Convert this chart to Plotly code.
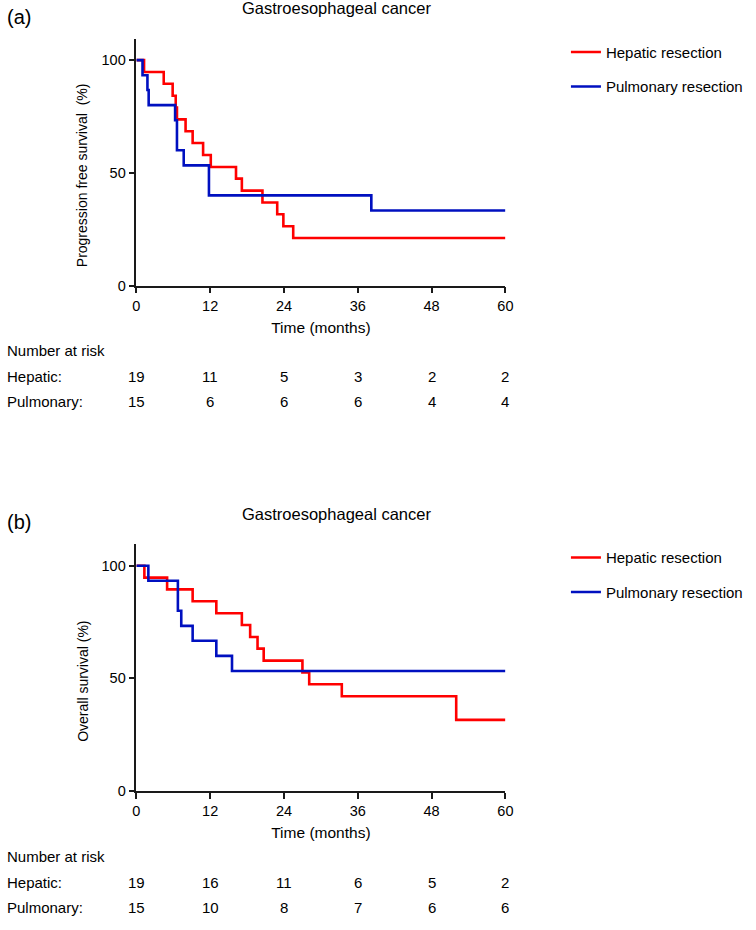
import plotly.graph_objects as go

# ---------------- data ----------------
panel_labels = ["(a)", "(b)"]
panel_titles = ["Gastroesophageal cancer", "Gastroesophageal cancer"]
y_titles = ["Progression free survival  (%)", "Overall survival (%)"]
series_names = ["Hepatic resection", "Pulmonary resection"]

# Panel (a): progression free survival (step curves)
pfs_hep_t = [0, 1.25, 4.45, 5.9, 6.4, 6.6, 8.0, 9.15, 10.85, 12.1, 16.2, 17.15, 20.5, 22.9, 23.9, 25.5, 60]
pfs_hep_s = [100, 94.7, 89.5, 84.2, 78.9, 73.7, 68.4, 63.2, 57.9, 52.6, 47.4, 42.1, 36.8, 31.6, 26.3, 21.1, 21.1]
pfs_pul_t = [0, 1.0, 1.8, 2.0, 6.3, 6.6, 7.7, 11.8, 38.2, 60]
pfs_pul_s = [100, 93.3, 86.7, 80.0, 73.3, 60.0, 53.3, 40.0, 33.3, 33.3]

# Panel (b): overall survival (step curves)
os_hep_t = [0, 1.3, 5.0, 9.15, 13.0, 17.15, 18.5, 19.7, 20.7, 27.0, 28.1, 33.4, 52.0, 60]
os_hep_s = [100, 94.7, 89.5, 84.2, 78.9, 73.7, 68.4, 63.2, 57.9, 52.6, 47.4, 42.1, 31.6, 31.6]
os_pul_t = [0, 1.95, 6.75, 7.3, 9.15, 13.0, 15.55, 60]
os_pul_s = [100, 93.3, 80.0, 73.3, 66.7, 60.0, 53.3, 53.3]

# Number at risk
risk_times = [0, 12, 24, 36, 48, 60]
pfs_hep_risk = [19, 11, 5, 3, 2, 2]
pfs_pul_risk = [15, 6, 6, 6, 4, 4]
os_hep_risk = [19, 16, 11, 6, 5, 2]
os_pul_risk = [15, 10, 8, 7, 6, 6]
risk_row_labels = ["Hepatic:", "Pulmonary:"]

x_ticks = [0, 12, 24, 36, 48, 60]
y_ticks = [0, 50, 100]

# ---------------- style ----------------
W, H = 756, 930
RED = "#FF0000"
BLUE = "#0010C0"
FONT = "Liberation Sans, Arial, sans-serif"
AXC = "#1a1a1a"


def px(x):
    return x / W


def py(y):
    return 1 - y / H


fig = go.Figure()

panels = [
    dict(off=0, curves=[(pfs_hep_t, pfs_hep_s), (pfs_pul_t, pfs_pul_s)],
         risk=[pfs_hep_risk, pfs_pul_risk]),
    dict(off=510, curves=[(os_hep_t, os_hep_s), (os_pul_t, os_pul_s)],
         risk=[os_hep_risk, os_pul_risk]),
]

annotations = []
layout_axes = {}
for i, p in enumerate(panels):
    off = p["off"]
    sfx = "" if i == 0 else str(i + 1)
    xa, ya = "x" + sfx, "y" + sfx
    leg = "legend" if i == 0 else "legend2"
    for (t, s), name, col in zip(p["curves"], series_names, [RED, BLUE]):
        fig.add_trace(go.Scatter(
            x=t, y=s, mode="lines", line=dict(color=col, width=2.6, shape="hv"),
            name=name, xaxis=xa, yaxis=ya, legend=leg, legendgroup=name + sfx,
            hoverinfo="skip"))

    layout_axes["xaxis" + sfx] = dict(
        domain=[px(134.5), px(509.5)], range=[0, 60], tickvals=x_ticks,
        ticks="outside", ticklen=6, tickwidth=1.5, tickcolor=AXC,
        showline=True, linecolor=AXC, linewidth=1.5, showgrid=False, zeroline=False,
        anchor=ya, tickfont=dict(size=14.5, color="black", family=FONT),
        title=dict(text="Time (months)", font=dict(size=15.5, color="black", family=FONT), standoff=9),
        fixedrange=True)
    layout_axes["yaxis" + sfx] = dict(
        domain=[py(288 + off), py(39 + off)], range=[0, 109.5], tickvals=y_ticks,
        ticks="outside", ticklen=6, tickwidth=1.5, tickcolor=AXC,
        showline=True, linecolor=AXC, linewidth=1.5, showgrid=False, zeroline=False,
        anchor=xa, tickfont=dict(size=14.5, color="black", family=FONT),
        fixedrange=True)

    layout_axes[leg] = dict(
        x=px(571), y=py(36 + off), xanchor="left", yanchor="top",
        font=dict(size=15, color="black", family=FONT), bgcolor="rgba(0,0,0,0)",
        tracegroupgap=12, itemclick=False, itemdoubleclick=False)

    # y-axis title, centred on the 0-100 span as in the original
    annotations.append(dict(text=y_titles[i], x=px(80), y=py(177 + off), xref="paper", yref="paper",
                            xanchor="center", yanchor="middle", textangle=-90, showarrow=False,
                            font=dict(size=14, color="black", family=FONT)))
    annotations.append(dict(text=panel_labels[i], x=px(1), y=py(17 + off), xref="paper", yref="paper",
                            xanchor="left", yanchor="middle", showarrow=False,
                            font=dict(size=20, color="black", family=FONT)))
    annotations.append(dict(text=panel_titles[i], x=px(338), y=py(8 + off), xref="paper", yref="paper",
                            xanchor="center", yanchor="middle", showarrow=False,
                            font=dict(size=16.5, color="black", family=FONT)))
    annotations.append(dict(text="Number at risk", x=px(1), y=py(354 + off), xref="paper", yref="paper",
                            xanchor="left", yanchor="middle", showarrow=False,
                            font=dict(size=15, color="black", family=FONT)))
    for r, (lab, vals) in enumerate(zip(risk_row_labels, p["risk"])):
        yy = py(380 + 25 * r + off)
        annotations.append(dict(text=lab, x=px(1), y=yy, xref="paper", yref="paper",
                                xanchor="left", yanchor="middle", showarrow=False,
                                font=dict(size=15, color="black", family=FONT)))
        for t, v in zip(risk_times, vals):
            annotations.append(dict(text=str(v), x=t, y=yy, xref=xa, yref="paper",
                                    xanchor="center", yanchor="middle", showarrow=False,
                                    font=dict(size=15, color="black", family=FONT)))

fig.update_layout(
    width=W, height=H, margin=dict(l=0, r=0, t=0, b=0),
    paper_bgcolor="white", plot_bgcolor="white",
    showlegend=True, annotations=annotations,
    font=dict(family=FONT, color="black"),
    **layout_axes)

fig.write_html(
    "out.html",
    config={"displayModeBar": False},
    post_script="document.body.style.margin='0';document.body.style.padding='0';"
                "document.documentElement.style.overflow='hidden';")
